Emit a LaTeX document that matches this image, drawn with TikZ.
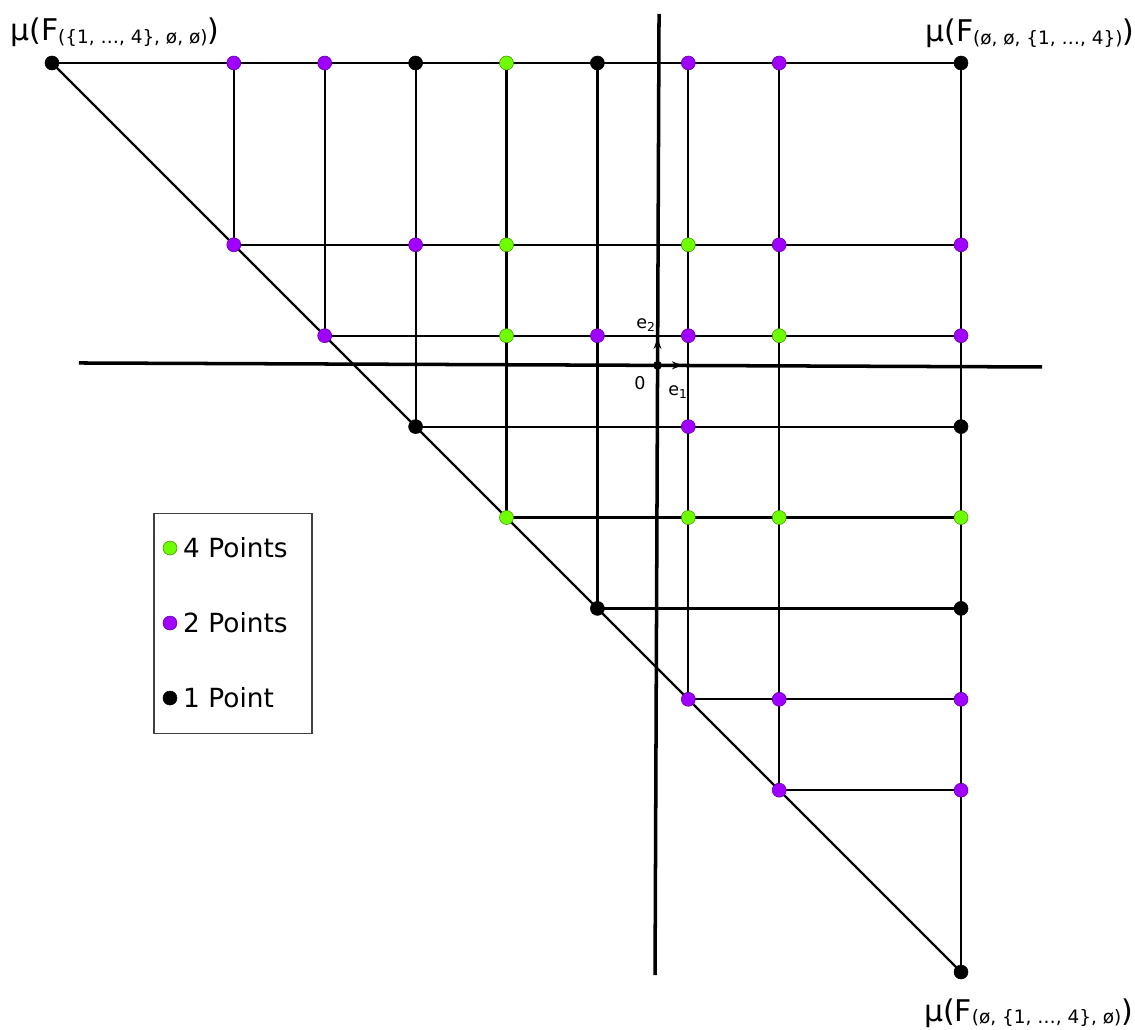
\documentclass[tikz,border=0pt]{standalone}
\usepackage{fontspec}
\setmainfont{DejaVu Sans}
\usepackage{tikz}
\usetikzlibrary{arrows.meta,backgrounds,calc}
\definecolor{fourcolor}{RGB}{110,255,0}
\definecolor{twocolor}{RGB}{160,0,255}
\newcommand{\subtxt}[1]{\raisebox{-1.5pt}{\fontsize{10.5}{12}\selectfont #1}}
\tikzset{
  ptdot/.style={circle,inner sep=0pt,minimum size=0.28cm,line width=0.3pt},
  four/.style={ptdot,fill=fourcolor,draw=fourcolor!55!black},
  two/.style={ptdot,fill=twocolor,draw=twocolor!60!black},
  one/.style={ptdot,fill=black,draw=black},
  gridline/.style={line width=1.25pt,black},
  axisline/.style={line width=2pt,black},
  basis/.style={line width=0.9pt,-{Stealth[length=6pt,width=4.5pt]}},
  title/.style={font=\fontsize{17}{20}\selectfont,inner sep=0pt},
  legtext/.style={font=\fontsize{15}{18}\selectfont,anchor=west,inner sep=0pt},
  axlabel/.style={font=\fontsize{10}{12}\selectfont,inner sep=0pt},
}
\begin{document}
\begin{tikzpicture}[x=1.818cm,y=-1.818cm]
        \useasboundingbox (-0.572,-0.693) rectangle (11.914,10.627);
        % Points
        \foreach \c/\r in {5/0,5/2,7/2,5/3,8/3,5/5,7/5,8/5,10/5}
          \node[four] (d\c-\r) at (\c,\r) {};
        \foreach \c/\r in {2/0,3/0,7/0,8/0,2/2,4/2,8/2,10/2,3/3,6/3,7/3,10/3,7/4,7/7,8/7,10/7,8/8,10/8}
          \node[two] (d\c-\r) at (\c,\r) {};
        \foreach \c/\r in {0/0,4/0,6/0,10/0,4/4,10/4,6/6,10/6,10/10}
          \node[one] (d\c-\r) at (\c,\r) {};
        % Grid
        \begin{scope}[on background layer]
          \foreach \r in {0,2,3,...,8}
            \draw[gridline] (d\r-\r.center) -- (d10-\r.center);
          \foreach \c in {2,3,...,8,10}
            \draw[gridline] (d\c-0.center) -- (d\c-\c.center);
          \draw[gridline] (d0-0.center) -- (d10-10.center);
        \end{scope}
        % Axes
        \coordinate (xl) at (0.297,3.30);
        \coordinate (xr) at (10.891,3.344);
        \coordinate (yt) at (6.678,-0.539);
        \coordinate (yb) at (6.634,10.033);
        \draw[axisline] (xl) -- (xr);
        \draw[axisline] (yt) -- (yb);
        \coordinate (o) at (intersection of xl--xr and yt--yb);
        \coordinate (e1) at ($(o)+(0.275,0)$);
        \coordinate (e2) at ($(o)+(0,-0.297)$);
        \draw[basis] (o) -- (e1);
        \draw[basis] (o) -- (e2);
        \node[circle,fill=black,inner sep=0pt,minimum size=5pt] (odot) at (o) {};
        \node[axlabel] (lo) at (6.468,3.52) {0};
        \node[axlabel] (le1) at (6.887,3.62) {e\textsubscript{1}};
        \node[axlabel] (le2) at (6.535,2.882) {e\textsubscript{2}};
        % Legend
        \node[draw=black!75,line width=0.6pt,minimum width=3.16cm,minimum height=4.4cm] (legend) at (1.991,6.161) {};
        \node[four] (k4) at (1.298,5.336) {};
        \node[two]  (k2) at (1.298,6.161) {};
        \node[one]  (k1) at (1.298,6.986) {};
        \node[legtext] (t4) at (1.44,5.336) {4 Points};
        \node[legtext] (t2) at (1.44,6.161) {2 Points};
        \node[legtext] (t1) at (1.44,6.986) {1 Point};
        % Labels
        \node[title,anchor=base west] (ftl) at (-0.462,-0.242) {μ(F\subtxt{(\{1, …, 4\}, ø, ø)})};
        \node[title,anchor=base west] (ftr) at (9.604,-0.231) {μ(F\subtxt{(ø, ø, \{1, …, 4\})})};
        \node[title,anchor=base west] (fbr) at (9.59,10.539) {μ(F\subtxt{(ø, \{1, …, 4\}, ø)})};
\end{tikzpicture}
\end{document}
